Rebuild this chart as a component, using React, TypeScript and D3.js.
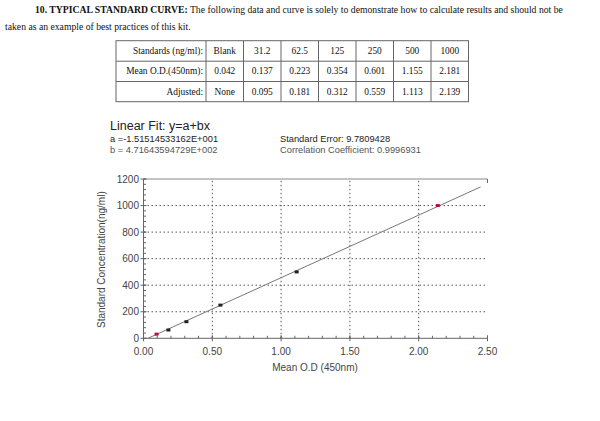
import React from "react";
import * as d3 from "d3";

const standardsRow = ["Blank", "31.2", "62.5", "125", "250", "500", "1000"];
const meanODRow = ["0.042", "0.137", "0.223", "0.354", "0.601", "1.155", "2.181"];
const adjustedRow = ["None", "0.095", "0.181", "0.312", "0.559", "1.113", "2.139"];
const rowLabels = ["Standards (ng/ml):", "Mean O.D.(450nm):", "Adjusted:"];

const concentrations = [31.2, 62.5, 125, 250, 500, 1000];
const adjustedOD = [0.095, 0.181, 0.312, 0.559, 1.113, 2.139];
const pointColors = ["#b0103a", "#222", "#222", "#222", "#222", "#b0103a"];

const fitA = -15.1514533162;
const fitB = 471.643594729;
const fitRange = [0.0321, 2.45];

const xTicks = [0, 0.5, 1.0, 1.5, 2.0, 2.5];
const yTicks = [0, 200, 400, 600, 800, 1000, 1200];

export default function App() {
  const x = d3.scaleLinear().domain([0, 2.5]).range([143.5, 487.5]);
  const y = d3.scaleLinear().domain([0, 1200]).range([338.3, 179]);
  const xMinor = d3.range(0, 2.5001, 0.1);
  const yMinor = d3.range(0, 1200.001, 40);
  const line = d3
    .line<number>()
    .x((d) => x(d))
    .y((d) => y(fitA + fitB * d));

  const tableLeft = 116;
  const firstCol = 206;
  const tableRight = 468.5;
  const colW = (tableRight - firstCol) / standardsRow.length;
  const rowYs = [40.7, 61.2, 81.5, 101.7];
  const rows = [standardsRow, meanODRow, adjustedRow];

  return (
    <svg
      width={600}
      height={421}
      style={{ position: "absolute", left: 0, top: 0, background: "#fff" }}
    >
      <g fontFamily="'Liberation Serif', 'Times New Roman', serif" fontSize={9.7} fill="#111">
        <text x={35} y={13}>
          <tspan fontWeight="bold">10. TYPICAL STANDARD CURVE:</tspan>
          <tspan> The following data and curve is solely to demonstrate how to calculate results and should not be</tspan>
        </text>
        <text x={5} y={30}>taken as an example of best practices of this kit.</text>
      </g>

      {/* table */}
      <g stroke="#666" strokeWidth={1} fill="none">
        <rect x={tableLeft} y={rowYs[0]} width={tableRight - tableLeft} height={rowYs[3] - rowYs[0]} />
        {rowYs.slice(1, 3).map((ry, i) => (
          <line key={i} x1={tableLeft} x2={tableRight} y1={ry} y2={ry} />
        ))}
        <line x1={firstCol} x2={firstCol} y1={rowYs[0]} y2={rowYs[3]} />
        {standardsRow.slice(1).map((_, i) => (
          <line key={i} x1={firstCol + colW * (i + 1)} x2={firstCol + colW * (i + 1)} y1={rowYs[0]} y2={rowYs[3]} />
        ))}
      </g>
      <g fontFamily="'Liberation Serif', 'Times New Roman', serif" fontSize={9.4} fill="#111">
        {rows.map((r, ri) => (
          <g key={ri}>
            <text x={firstCol - 3} y={(rowYs[ri] + rowYs[ri + 1]) / 2 + 3} textAnchor="end">
              {rowLabels[ri]}
            </text>
            {r.map((v, ci) => (
              <text
                key={ci}
                x={firstCol + colW * (ci + 0.5)}
                y={(rowYs[ri] + rowYs[ri + 1]) / 2 + 3}
                textAnchor="middle"
              >
                {v}
              </text>
            ))}
          </g>
        ))}
      </g>

      {/* fit info */}
      <g fontFamily="'Liberation Sans', Arial, sans-serif" fill="#222">
        <text x={110} y={130} fontSize={12.5}>Linear Fit: y=a+bx</text>
        <text x={110} y={142} fontSize={9.3}>a =-1.51514533162E+001</text>
        <text x={110} y={152.5} fontSize={9.3} fill="#555">b = 4.71643594729E+002</text>
        <text x={280} y={142} fontSize={9.3}>Standard Error: 9.7809428</text>
        <text x={280} y={152.5} fontSize={9.3} fill="#555">Correlation Coefficient: 0.9996931</text>
      </g>

      {/* grid */}
      <g stroke="#555" strokeWidth={1} strokeDasharray="1.5,2.5">
        {xTicks.slice(1, 5).map((t) => (
          <line key={t} x1={x(t)} x2={x(t)} y1={y(0)} y2={y(1200)} />
        ))}
        {yTicks.slice(1, 6).map((t) => (
          <line key={t} x1={x(0)} x2={x(2.5)} y1={y(t)} y2={y(t)} />
        ))}
      </g>

      {/* axes */}
      <g stroke="#666" strokeWidth={1}>
        <line x1={x(0)} x2={x(2.5)} y1={y(0)} y2={y(0)} />
        <line x1={x(0)} x2={x(0)} y1={y(0)} y2={y(1200)} />
        <line x1={x(0)} x2={x(2.5)} y1={y(1200)} y2={y(1200)} stroke="#888" />
        <line x1={x(2.5)} x2={x(2.5)} y1={y(1200)} y2={y(1200) + 4} />
        {xMinor.map((t, i) => (
          <line key={"xm" + i} x1={x(t)} x2={x(t)} y1={y(0)} y2={y(0) - 2.5} />
        ))}
        {xTicks.map((t) => (
          <line key={"xM" + t} x1={x(t)} x2={x(t)} y1={y(0) - 3} y2={y(0) + 3} />
        ))}
        {yMinor.map((t, i) => (
          <line key={"ym" + i} x1={x(0)} x2={x(0) + 2.5} y1={y(t)} y2={y(t)} />
        ))}
        {yTicks.map((t) => (
          <line key={"yM" + t} x1={x(0) - 3} x2={x(0) + 3} y1={y(t)} y2={y(t)} />
        ))}
      </g>

      <g fontFamily="'Liberation Sans', Arial, sans-serif" fontSize={10} fill="#444">
        {xTicks.map((t) => (
          <text key={t} x={x(t)} y={355} textAnchor="middle">
            {t.toFixed(2)}
          </text>
        ))}
        {yTicks.map((t) => (
          <text key={t} x={139} y={y(t) + 3.5} textAnchor="end">
            {t}
          </text>
        ))}
        <text x={315} y={371} textAnchor="middle" fontSize={10}>
          Mean O.D (450nm)
        </text>
        <text
          transform={`translate(105,${(y(0) + y(1200)) / 2 + 1}) rotate(-90)`}
          textAnchor="middle"
          fontSize={10}
        >
          Standard Concentration(ng/ml)
        </text>
      </g>

      {/* fit line */}
      <path d={line(fitRange) || ""} stroke="#777" strokeWidth={1} fill="none" />

      {/* points */}
      {adjustedOD.map((od, i) => (
        <rect
          key={i}
          x={x(od) - 2}
          y={y(concentrations[i]) - 1.5}
          width={4}
          height={3}
          fill={pointColors[i]}
        />
      ))}
    </svg>
  );
}
